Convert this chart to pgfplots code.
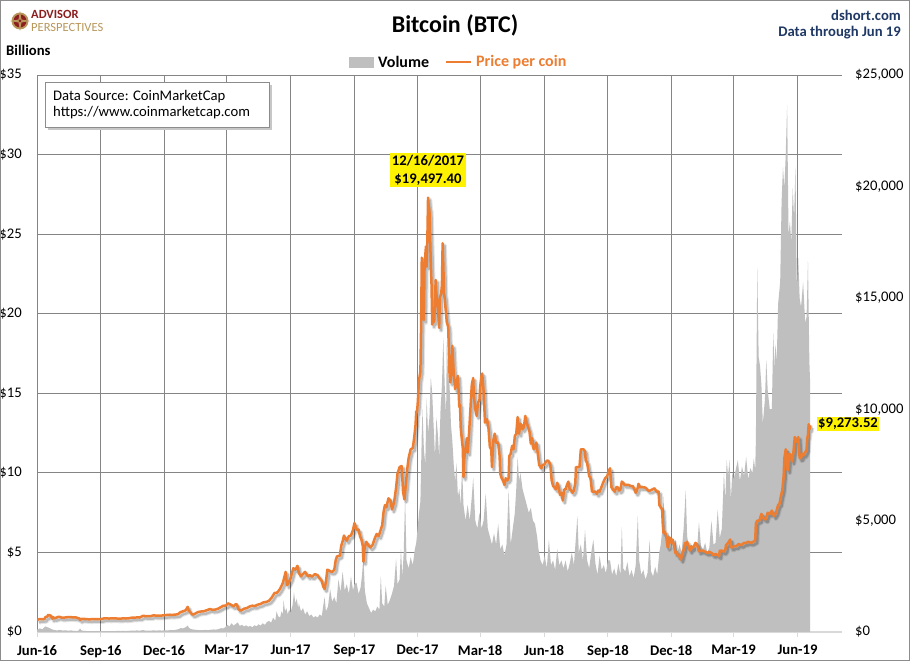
\documentclass[border=0pt]{standalone}
\usepackage{fontspec}
\setmainfont{Carlito}
\usepackage{pgfplots}
\pgfplotsset{compat=1.18}
\usepackage{pgfplotstable}
\definecolor{btcorange}{HTML}{ED7D31}
\definecolor{volgray}{HTML}{BFBFBF}
\definecolor{gridgray}{HTML}{858585}
\definecolor{navy}{HTML}{1F3864}
\definecolor{apred}{HTML}{8B1E1E}
\definecolor{apgold}{HTML}{B8975A}

\pgfplotstableread{
day vol
0 0.15
4 0.22
8 0.18
12 0.35
15 0.30
18 0.25
21 0.18
25 0.12
29 0.10
33 0.13
37 0.09
41 0.11
45 0.08
49 0.10
53 0.07
57 0.06
60 0.09
62 0.22
64 0.10
68 0.07
72 0.06
76 0.05
80 0.06
84 0.05
88 0.05
92 0.06
96 0.05
100 0.06
104 0.05
108 0.06
112 0.05
116 0.07
120 0.06
124 0.07
128 0.06
132 0.07
136 0.09
140 0.08
144 0.10
148 0.08
152 0.12
156 0.09
160 0.08
164 0.09
168 0.10
172 0.09
176 0.10
180 0.09
184 0.11
188 0.10
192 0.12
196 0.11
200 0.14
204 0.18
207 0.25
210 0.22
214 0.30
217 0.40
219 0.25
222 0.18
226 0.15
230 0.13
234 0.12
238 0.11
242 0.13
246 0.12
250 0.14
254 0.16
258 0.15
262 0.19
265 0.24
268 0.22
271 0.30
274 0.45
277 0.35
280 0.55
283 0.40
286 0.50
289 0.60
292 0.38
295 0.45
298 0.35
301 0.42
304 0.33
307 0.38
310 0.30
313 0.42
316 0.36
319 0.48
322 0.40
325 0.55
328 0.45
331 0.62
334 0.70
337 0.58
340 0.90
343 0.70
345 1.30
347 1.00
350 0.90
352 1.30
354 1.10
355 2.00
357 1.30
359 1.50
361 1.10
363 1.40
365 1.20
368 1.70
370 2.50
372 1.80
374 2.10
376 1.50
377 1.80
380 1.30
383 1.50
386 1.10
389 1.30
392 1.00
395 1.10
398 0.90
401 1.00
404 0.90
407 1.10
410 1.00
412 1.60
414 2.20
416 1.30
419 1.60
422 2.70
425 1.90
428 2.20
431 1.80
434 3.30
437 2.50
440 3.80
443 2.60
446 3.00
449 2.40
452 3.50
455 2.60
457 3.00
460 3.10
463 2.40
466 2.80
468 3.60
470 4.80
472 2.60
475 1.80
478 1.50
481 1.20
484 1.40
487 1.30
490 1.60
493 1.40
495 3.50
497 1.80
500 1.60
502 2.90
505 1.70
508 2.00
511 2.40
514 2.90
517 4.60
519 3.00
522 3.30
524 5.20
526 3.50
528 5.00
530 8.50
532 4.50
535 4.00
538 4.70
541 4.20
544 5.20
546 5.60
548 6.50
550 7.50
552 8.20
554 12.5
555 14.0
557 11.5
559 10.5
561 14.7
563 12.5
565 13.5
567 16.0
569 15.0
571 13.0
573 11.0
575 13.5
577 12.5
579 11.0
581 14.0
583 15.5
585 18.5
587 15.5
589 13.5
590 18.3
592 16.0
594 15.5
596 13.0
598 12.0
600 10.5
602 9.5
604 10.6
606 8.5
608 9.0
610 8.0
612 10.4
614 8.0
617 7.0
620 8.0
623 7.0
626 8.5
628 9.7
631 7.0
634 6.5
637 7.5
640 6.5
643 7.0
646 8.7
649 6.5
652 6.0
655 5.5
658 6.2
661 5.5
664 6.8
667 5.2
670 5.5
673 4.8
676 5.5
679 8.9
682 5.5
685 6.5
688 7.5
690 9.0
692 11.0
694 9.5
696 10.0
699 9.0
702 8.5
705 8.0
708 7.5
711 7.8
714 7.0
717 6.8
720 6.0
722 5.2
725 4.5
728 4.2
731 4.8
734 4.0
737 5.8
740 4.2
743 4.5
746 3.9
749 5.2
752 4.2
755 4.5
758 4.0
761 4.5
764 3.8
767 4.3
770 5.0
773 4.2
776 6.0
778 7.3
780 5.0
783 5.5
786 4.5
789 6.4
792 4.5
795 4.0
798 5.0
801 5.8
804 4.3
807 3.6
810 4.8
813 3.9
816 4.2
819 3.7
822 4.5
825 4.5
828 3.6
831 4.0
834 3.5
837 4.3
840 3.6
842 6.6
844 4.0
847 3.8
850 4.4
853 3.5
856 3.9
859 3.4
862 4.2
865 7.3
867 4.5
870 3.6
873 3.9
876 3.3
879 3.7
882 5.8
884 3.8
887 3.5
890 4.1
893 3.6
896 5.0
898 5.5
900 6.3
902 8.5
904 6.0
907 5.8
909 6.2
911 5.0
913 5.6
916 5.2
919 5.8
922 4.9
925 5.5
928 5.0
931 6.5
934 8.9
936 6.0
939 5.3
942 5.1
944 5.4
947 5.6
950 5.0
953 6.9
956 5.4
959 5.2
962 5.6
965 5.0
968 5.3
971 7.0
974 5.5
977 5.6
980 7.7
983 5.9
986 6.5
989 10.0
991 8.3
993 10.8
995 9.8
997 10.8
999 8.3
1001 10.0
1003 9.6
1006 10.2
1009 10.8
1012 9.5
1015 10.4
1018 9.8
1021 11.0
1024 9.6
1027 10.3
1030 10.0
1032 10.9
1034 10.2
1035 12.0
1037 22.9
1039 17.3
1041 16.7
1043 15.5
1045 13.1
1048 14.6
1050 17.1
1052 15.2
1055 14.0
1058 14.0
1060 18.75
1062 16.5
1063 18.1
1065 17.0
1067 20.6
1070 22.0
1072 27.0
1074 29.2
1076 27.9
1078 30.0
1080 33.1
1082 25.0
1084 25.8
1086 24.4
1088 27.9
1090 26.0
1092 29.2
1094 21.5
1096 23.5
1098 21.0
1100 20.4
1103 22.0
1106 19.4
1108 19.8
1110 23.3
1112 17.0
1113 15.8
}\voltable

\pgfplotstableread{
day price
0 531
3 575
8 580
11 585
12 670
15 695
16 766
17 750
18 757
20 730
22 595
23 665
25 620
28 645
30 675
33 675
36 640
40 650
44 665
48 670
52 655
56 655
61 605
62 548
64 590
68 587
72 575
76 568
80 580
84 575
88 572
92 575
96 607
100 608
104 605
108 610
112 609
116 605
120 600
124 612
128 605
132 616
136 640
140 640
144 656
148 650
151 700
153 730
156 710
160 710
164 712
168 750
172 730
176 735
180 740
183 752
187 765
191 775
195 770
199 780
203 800
206 880
208 905
212 950
214 975
217 1130
218 1010
220 906
224 780
228 830
232 900
236 920
240 930
245 985
249 1030
253 995
257 1010
261 1050
265 1120
268 1175
272 1190
275 1285
279 1230
283 1150
286 1250
288 1230
290 1020
292 975
294 965
298 1045
302 1070
306 1145
310 1180
314 1170
318 1230
322 1260
326 1330
330 1350
334 1400
338 1550
342 1750
346 1770
350 1940
354 2200
356 2450
358 2700
360 2100
362 2200
365 2400
369 2860
372 2800
375 2970
377 2650
380 2500
383 2600
386 2700
390 2500
393 2550
396 2480
400 2600
404 2550
407 2400
410 2300
412 2050
414 1930
416 2250
418 2800
421 2750
424 2700
426 2720
428 2800
430 3220
432 3400
436 3420
438 3870
440 4070
442 4330
444 4200
446 4100
449 4300
452 4330
455 4580
457 4890
460 4600
463 4600
465 4300
467 4160
469 3870
470 3150
471 3640
474 4050
477 3900
480 3800
483 3900
486 4180
489 4400
492 4310
495 4600
497 4800
499 5400
501 5700
503 5600
506 6000
509 5900
511 5500
514 5800
517 6470
519 7100
522 7400
525 7450
527 6300
529 5950
531 6600
533 7300
535 7800
538 8200
541 8250
543 8700
545 9300
546 9900
547 9850
548 10200
550 11300
552 11700
553 13700
554 16800
555 16000
557 14000
558 16500
560 17300
561 16400
562 17600
563 19497
564 19100
565 18950
566 17700
567 16500
568 15600
569 13800
570 14300
571 13900
572 14000
574 15800
575 15200
576 14900
578 14150
579 13650
580 14980
582 15200
583 15600
584 17450
585 16480
586 15170
587 15000
588 14600
590 13900
592 13700
594 11500
595 11200
596 11450
598 12850
600 11600
602 10900
604 11200
606 11500
608 10100
609 10200
610 9200
611 8850
613 8250
614 6950
615 7750
617 8250
619 8700
620 8050
622 8900
624 10000
626 11100
628 11400
629 10600
631 10000
633 9700
635 10300
637 10400
638 11000
640 11500
641 11600
643 10800
645 9400
648 9550
650 9150
652 8300
654 8200
655 7400
657 8600
659 8900
661 8500
664 8500
666 7900
667 7100
669 6900
671 6800
673 6600
675 6900
677 6800
679 6900
680 7900
682 8000
684 8350
686 8200
688 8800
690 8900
692 9650
694 8900
696 9350
698 9250
699 9100
701 9200
703 9700
705 9400
707 9200
709 9000
711 8450
713 8700
715 8200
717 8300
719 8500
721 8000
723 7500
726 7350
728 7500
730 7500
733 7650
735 7700
737 7650
739 7500
741 6800
743 6550
745 6500
747 6400
749 6700
751 6500
753 6150
755 6250
757 5900
759 6400
761 6400
763 6600
765 6750
767 6400
769 6350
771 6250
773 6350
775 6700
776 7400
778 7400
781 7400
783 8200
785 8200
787 8200
789 8100
790 7700
792 7600
795 7000
797 6900
799 6300
801 6300
804 6300
806 6200
808 6350
810 6300
812 6450
815 6700
818 6900
821 7000
823 7200
825 7350
827 6500
829 6400
832 6300
834 6500
836 6500
838 6350
840 6400
842 6750
844 6700
846 6600
849 6600
852 6600
855 6550
858 6550
862 6250
863 6300
865 6480
866 6650
868 6500
872 6500
876 6480
880 6350
883 6350
886 6400
889 6450
892 6300
895 6300
896 5700
898 5600
900 5500
901 4800
902 4450
904 4500
906 4300
907 4000
908 3800
909 3850
910 4250
912 4200
913 4000
915 4150
917 3900
919 3550
921 3600
923 3400
925 3450
927 3250
929 3500
931 3700
933 4000
934 3900
936 4050
938 3850
940 3650
942 3850
943 3750
944 3800
946 3850
948 4000
950 3950
953 3620
956 3650
959 3650
962 3600
965 3550
968 3600
971 3550
974 3450
977 3500
980 3450
982 3400
983 3650
986 3650
989 3600
991 3700
992 3900
995 4000
998 4150
999 3800
1001 3800
1003 3850
1007 3850
1010 3950
1014 3900
1018 4000
1021 4000
1024 4050
1028 4000
1031 4050
1034 4100
1035 4880
1037 5000
1040 5000
1043 5300
1046 5100
1049 5050
1052 5350
1055 5300
1058 5450
1061 5200
1064 5350
1067 5700
1069 5750
1071 6100
1073 6350
1075 7000
1076 7800
1077 8000
1078 8200
1079 7900
1080 7350
1081 7250
1083 8000
1085 7950
1087 7650
1089 8050
1091 8750
1093 8550
1095 8550
1096 8750
1098 7800
1100 7800
1102 8000
1104 7950
1106 8050
1108 8200
1109 8700
1110 8850
1111 9320
1112 9080
1113 9273.52
}\pricetable

\begin{document}
\begin{tikzpicture}[x=1pt,y=1pt]
\useasboundingbox (0,0) rectangle (910,661);
\fill[white] (0,0) rectangle (910,661);

% volume axis (left)
\begin{axis}[
  at={(37pt,29pt)}, anchor=south west, scale only axis,
  width=805pt, height=557pt,
  xmin=0, xmax=1159, ymin=0, ymax=35,
  xtick={0,92,183,273,365,457,548,638,730,822,913,1003,1095},
  xticklabels={Jun-16,Sep-16,Dec-16,Mar-17,Jun-17,Sep-17,Dec-17,Mar-18,Jun-18,Sep-18,Dec-18,Mar-19,Jun-19},
  ytick={0,5,10,15,20,25,30,35},
  yticklabels={\$0,\$5,\$10,\$15,\$20,\$25,\$30,\$35},
  grid=major,
  major grid style={gridgray, line width=0.9pt},
  axis x line*=bottom, axis y line*=left,
  x axis line style={-, draw=black!15, line width=1.2pt},
  y axis line style={draw=none},
  xtick style={draw=black!15, line width=1pt},
  ytick style={draw=none},
  tick align=outside, major tick length=5pt,
  xticklabel style={font=\fontsize{14.67}{16}\selectfont\bfseries, inner sep=0pt, yshift=-8pt},
  yticklabel style={font=\fontsize{14.67}{16}\selectfont, anchor=east, inner sep=0pt, xshift=-10pt},
]
\addplot[fill=volgray, draw=none] table[x=day,y=vol]{\voltable} \closedcycle;
\end{axis}

% price axis (right)
\begin{axis}[
  at={(37pt,29pt)}, anchor=south west, scale only axis,
  width=805pt, height=557pt,
  xmin=0, xmax=1159, ymin=0, ymax=25000,
  axis x line=none, axis y line*=right,
  y axis line style={draw=none}, ytick style={draw=none},
  ytick={0,5000,10000,15000,20000,25000},
  yticklabels={\$0,{\$5,000},{\$10,000},{\$15,000},{\$20,000},{\$25,000}},
  yticklabel style={font=\fontsize{14.67}{16}\selectfont, anchor=west, inner sep=0pt, xshift=13pt},
  scaled y ticks=false,
]
\addplot[black, opacity=0.10, line width=4.5pt, line join=round, transform canvas={xshift=2pt,yshift=-2.5pt}] table[x=day,y=price]{\pricetable};
\addplot[black, opacity=0.18, line width=2.4pt, line join=round, transform canvas={xshift=2pt,yshift=-2.5pt}] table[x=day,y=price]{\pricetable};
\addplot[btcorange, line width=2.5pt, line join=round] table[x=day,y=price]{\pricetable};
\end{axis}

% frame
\draw[black!45, line width=1pt] (0.5,0.5) rectangle (909.5,660.5);

% logo
\fill[apgold] (20,640) circle (8.5);
\fill[apred] (20,640) circle (6.5);
\fill[apgold] (20,650) -- (21.5,641.5) -- (30,640) -- (21.5,638.5) -- (20,630) -- (18.5,638.5) -- (10,640) -- (18.5,641.5) -- cycle;
\fill[apred] (20,640) circle (1.5);
\node[anchor=base west, inner sep=0pt, text=apred, font=\fontsize{12.5}{13}\selectfont\bfseries] at (31,642) {ADVISOR};
\node[anchor=base west, inner sep=0pt, text=apgold, font=\fontsize{12.5}{13}\selectfont] at (31,629) {PERSPECTIVES};

% title and top-right
\node[font=\fontsize{24}{26}\selectfont\bfseries] at (455,636) {Bitcoin (BTC)};
\node[anchor=east, inner sep=0pt, text=navy, font=\fontsize{14.67}{16}\selectfont\bfseries] at (901,646) {dshort.com};
\node[anchor=east, inner sep=0pt, text=navy, font=\fontsize{14.67}{16}\selectfont\bfseries] at (901,628) {Data through Jun 19};
\node[anchor=west, inner sep=0pt, font=\fontsize{14.67}{16}\selectfont\bfseries] at (6,611) {Billions};

% legend
\fill[volgray] (349,593) rectangle (374,604);
\node[anchor=west, inner sep=0pt, font=\fontsize{16}{18}\selectfont\bfseries] at (378,599) {Volume};
\draw[btcorange, line width=2.4pt] (446,599) -- (471,599);
\node[anchor=west, inner sep=0pt, text=btcorange, font=\fontsize{16}{18}\selectfont\bfseries] at (476,599) {Price per coin};

% data source box
\fill[black!22] (48,531) rectangle (272,576);
\draw[black!45, fill=white, line width=0.8pt] (45,534) rectangle (269,579);
\node[anchor=west, inner sep=0pt, font=\fontsize{14.67}{16}\selectfont] at (53,564) {Data Source: CoinMarketCap};
\node[anchor=west, inner sep=0pt, font=\fontsize{14.67}{16}\selectfont] at (53,548) {https://www.coinmarketcap.com};

% annotations
\node[fill=yellow, inner sep=1.5pt, align=center, font=\fontsize{14.67}{18}\selectfont\bfseries] at (428,491) {12/16/2017\\\$19,497.40};
\node[fill=yellow, inner sep=1.5pt, font=\fontsize{14.67}{16}\selectfont\bfseries] at (848,237) {\$9,273.52};
\end{tikzpicture}
\end{document}
